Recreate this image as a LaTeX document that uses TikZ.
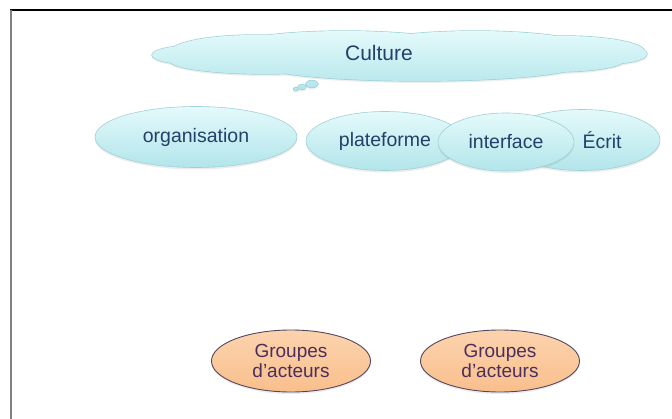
\documentclass[tikz,border=0pt]{standalone}
\usepackage{fontspec}
\setmainfont{Liberation Sans}
\usetikzlibrary{shapes.geometric,shadows}
\definecolor{cyantop}{HTML}{E4FAFB}
\definecolor{cyanbot}{HTML}{B2E5EA}
\definecolor{cyanedge}{HTML}{9FD0D6}
\definecolor{navytext}{HTML}{24406A}
\definecolor{peach}{HTML}{F9BF8C}
\definecolor{peachtop}{HTML}{FCD3AE}
\definecolor{peachedge}{HTML}{55465F}
\definecolor{purpletext}{HTML}{4A2E5C}
\tikzset{
  cyanoval/.style={ellipse, draw=cyanedge, line width=0.6pt, top color=cyantop, bottom color=cyanbot,
    inner sep=0pt, text=navytext, font=\fontsize{19.5}{21}\selectfont,
    drop shadow={shadow xshift=0pt, shadow yshift=-2pt, opacity=0.15, fill=gray}},
  peachoval/.style={ellipse, draw=peachedge, line width=0.9pt, top color=peachtop, bottom color=peach,
    inner sep=0pt, text=purpletext, align=center, font=\fontsize{19}{20}\selectfont,
    minimum width=159pt, minimum height=62pt,
    drop shadow={shadow xshift=0pt, shadow yshift=-2pt, opacity=0.15, fill=gray}},
  cloudedge/.style={draw=cyanedge, line width=1.3pt},
  cloudfill/.style={top color=cyantop, bottom color=cyanbot},
}
\newcommand{\cloudparts}{%
  (200,55) ellipse [x radius=48, y radius=10]
  (255,52) ellipse [x radius=85, y radius=17]
  (345,50) ellipse [x radius=125, y radius=19]
  (475,48) ellipse [x radius=115, y radius=17]
  (565,52) ellipse [x radius=80, y radius=16]
  (608,54) ellipse [x radius=39, y radius=10]
  (420,65) ellipse [x radius=160, y radius=16]
  (265,61) ellipse [x radius=95, y radius=13]
  (555,60) ellipse [x radius=70, y radius=12]
  (312,84) ellipse [x radius=6, y radius=3.5]
  (302,87) ellipse [x radius=4, y radius=2.5]
  (296,89) ellipse [x radius=2.5, y radius=1.6]}
\begin{document}
\begin{tikzpicture}[x=1pt,y=-1pt]
\useasboundingbox[fill=white] (0,0) rectangle (672,419);
% frame
\draw[line width=1.5pt, black] (10,10) -- (672,10);
\draw[line width=2pt, gray] (11,10) -- (11,419);
% cloud
\fill[gray, opacity=0.12] [yshift=-2pt] \cloudparts;
\path[cloudedge] \cloudparts;
\path[cloudfill] \cloudparts;
\node[text=navytext, font=\fontsize{21}{23}\selectfont] (culture) at (379,53) {Culture};
% row of ovals
\node[cyanoval, minimum width=202pt, minimum height=61pt] (organisation) at (196,137) {organisation};
\node[cyanoval, minimum width=158pt, minimum height=59pt] (plateforme) at (385,141) {plateforme};
\node[cyanoval, minimum width=156pt, minimum height=61pt,
  label={[xshift=20pt, text=navytext, font=\fontsize{19.5}{21}\selectfont]center:Écrit}] (ecrit) at (582,140) {};
\node[cyanoval, minimum width=136pt, minimum height=58pt] (interface) at (506,142) {interface};
% groups
\node[peachoval] (groupes1) at (291,361) {Groupes\\d’acteurs};
\node[peachoval] (groupes2) at (500,361) {Groupes\\d’acteurs};
\end{tikzpicture}
\end{document}
